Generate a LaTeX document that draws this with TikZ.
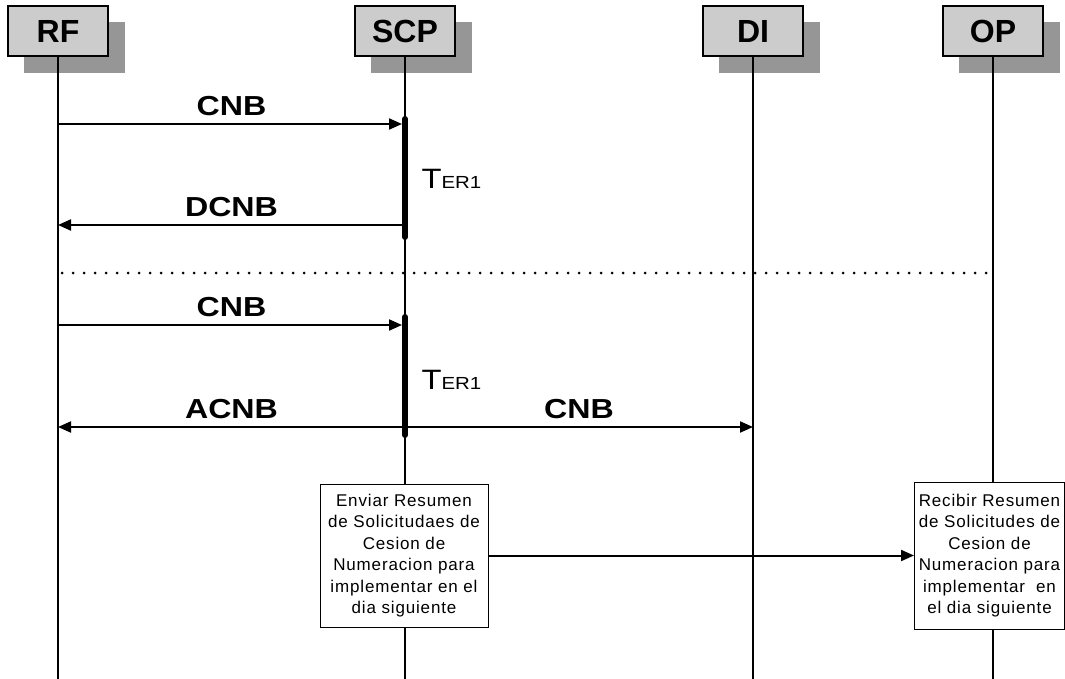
\documentclass[tikz,border=0pt]{standalone}
\usepackage{fontspec}
\setmainfont{Liberation Sans}
\newfontfamily\widefont[FakeStretch=1.17]{Liberation Sans}
\newfontfamily\notefont[LetterSpace=5]{Liberation Sans}
\usetikzlibrary{positioning,arrows.meta}

\definecolor{boxgray}{HTML}{CCCCCC}
\definecolor{shadowgray}{HTML}{969696}

\tikzset{
	actor/.style={draw,line width=1.2pt,fill=boxgray,minimum width=100pt,minimum height=50pt,inner sep=0pt,font=\bfseries\fontsize{32}{32}\selectfont},
	life/.style={line width=2pt},
	msg/.style={line width=2pt,-{Triangle[length=13pt,width=11pt]}},
	lbl/.style={font=\widefont\bfseries\fontsize{27.5}{27.5}\selectfont,inner sep=0pt,above=7pt},
	timer/.style={line width=6pt,line cap=round},
	note/.style={draw,line width=1pt,fill=white,align=center,inner sep=0pt,font=\notefont\fontsize{17}{21.5}\selectfont}
}
\newcommand{\terlabel}{{\widefont\fontsize{28}{28}\selectfont T}{\widefont\fontsize{17.5}{17.5}\selectfont ER1}}

\begin{document}
\begin{tikzpicture}[x=1pt,y=-1pt]
		\useasboundingbox (0,0) rectangle (1065,679);
		% cabeceras
		\foreach \n/\t/\x in {rf/RF/58, scp/SCP/405, di/DI/753, op/OP/993}{
			\fill[shadowgray] (\x-34,22) rectangle (\x+67,73);
			\node[actor] (\n) at (\x,31) {\t};
			\coordinate (\n-end) at (\x,679);
			\draw[life] (\n.south) -- (\n-end);
		}
		% primer intercambio
		\draw[msg,shorten >=3pt] (rf |- 0,124) -- (scp |- 0,124) node[lbl,midway] {CNB};
		\draw[msg] (scp |- 0,225) -- (rf |- 0,225) node[lbl,midway] {DCNB};
		\draw[timer] (scp |- 0,119) -- (scp |- 0,237);
		\node[anchor=base west] (ter1) at ([xshift=13pt]scp |- 0,189) {\terlabel};
		\draw[line width=3pt,dash pattern=on 0pt off 11pt,line cap=round] ([xshift=4pt]rf |- 0,273) -- (op |- 0,273);
		% segundo intercambio
		\draw[msg,shorten >=3pt] (rf |- 0,325) -- (scp |- 0,325) node[lbl,midway] {CNB};
		\draw[msg] (scp |- 0,427) -- (rf |- 0,427) node[lbl,midway] {ACNB};
		\draw[msg] (scp |- 0,427) -- (di |- 0,427) node[lbl,midway] {CNB};
		\draw[timer] (scp |- 0,317) -- (scp |- 0,435);
		\node[anchor=base west] (ter2) at ([xshift=13pt]scp |- 0,389) {\terlabel};
		% resumen
		\node[note,minimum width=168pt,minimum height=143pt] (enviar) at (404,555.5)
			{Enviar Resumen\\de Solicitudaes de\\Cesion de\\Numeracion para\\implementar en el\\dia siguiente};
		\node[note,minimum width=150pt,minimum height=147pt] (recibir) at (989.5,555.5)
			{Recibir Resumen\\de Solicitudes de\\Cesion de\\Numeracion para\\implementar\ \ en\\el dia siguiente};
		\draw[msg] (enviar.east) -- (recibir.west);
	\end{tikzpicture}
\end{document}
